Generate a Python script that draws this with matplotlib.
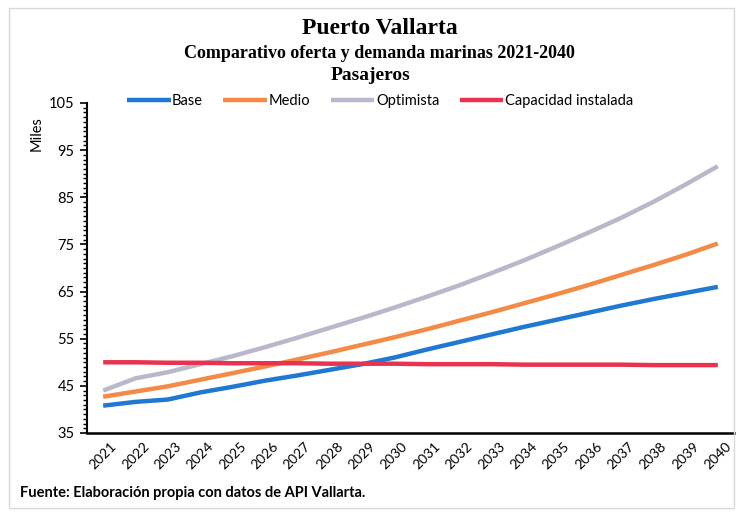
import matplotlib
matplotlib.use("Agg")
import matplotlib.pyplot as plt
from matplotlib.ticker import MultipleLocator
from matplotlib.patches import Rectangle

years = [str(y) for y in range(2021, 2041)]
base = [40.8, 41.6, 42.1, 43.6, 44.8, 46.1, 47.2, 48.4, 49.6, 51.0,
        52.7, 54.3, 55.9, 57.5, 59.0, 60.5, 62.0, 63.4, 64.7, 66.0]
medio = [42.7, 43.8, 44.9, 46.3, 47.7, 49.1, 50.6, 52.1, 53.7, 55.3,
         57.0, 58.8, 60.6, 62.5, 64.4, 66.4, 68.5, 70.6, 72.8, 75.2]
optimista = [44.0, 46.6, 47.9, 49.6, 51.3, 53.2, 55.2, 57.3, 59.4, 61.6,
             63.9, 66.3, 68.9, 71.6, 74.5, 77.5, 80.6, 84.0, 87.7, 91.6]
capacidad = [50.0, 50.0, 49.9, 49.9, 49.8, 49.8, 49.8, 49.7, 49.7, 49.7,
             49.6, 49.6, 49.6, 49.5, 49.5, 49.5, 49.5, 49.4, 49.4, 49.4]
series_names = ["Base", "Medio", "Optimista", "Capacidad instalada"]
yticks = [35, 45, 55, 65, 75, 85, 95, 105]

colors = ["#1f78d1", "#f48a45", "#b9b8ca", "#e8324e"]
sans = ["Lato", "DejaVu Sans"]
serif = ["Liberation Serif", "DejaVu Serif"]

fig = plt.figure(figsize=(7.38, 5.13), dpi=100)
ax = fig.add_axes([87/738, 1 - 433/513, (734 - 87)/738, (433 - 103)/513])

x = list(range(len(years)))
for vals, name, c in zip([base, medio, optimista, capacidad], series_names, colors):
    ax.plot(x, vals, color=c, lw=3.2, label=name, solid_capstyle="butt")

ax.set_xlim(-0.5, len(years) - 0.5)
ax.set_ylim(35, 105)
ax.set_yticks(yticks)
ax.yaxis.set_minor_locator(MultipleLocator(1))
ax.set_xticks(x)
ax.set_xticklabels(years, rotation=45, ha="center", va="top", fontsize=10, family=sans)
for lab in ax.get_yticklabels():
    lab.set_family(sans)
    lab.set_fontsize(10.5)
ax.tick_params(axis="x", length=0, pad=5)
ax.tick_params(axis="y", which="major", length=5, width=1.2, direction="out", pad=4)
ax.tick_params(axis="y", which="minor", length=3, width=1.0, direction="out")
for s in ["top", "right"]:
    ax.spines[s].set_visible(False)
ax.spines["left"].set_linewidth(1.5)
ax.spines["bottom"].set_linewidth(1.8)

leg = ax.legend(loc="center", bbox_to_anchor=((380 - 87) / 647, (433 - 101) / 330), ncol=4,
                frameon=False, handlelength=3.0, handletextpad=0.1, columnspacing=1.4,
                prop={"family": sans, "size": 10.5})

fig.text(37/738, 1 - 134/513, "Miles", rotation=90, ha="center", va="center",
         fontsize=10.5, family=sans)

fig.text(380/738, 1 - 29/513, "Puerto Vallarta", ha="center", va="center",
         fontsize=17, fontweight="bold", family=serif)
fig.text(379/738, 1 - 54/513, "Comparativo oferta y demanda marinas 2021-2040", ha="center",
         va="center", fontsize=13, fontweight="bold", family=serif)
fig.text(371/738, 1 - 76/513, "Pasajeros", ha="center", va="center",
         fontsize=14, fontweight="bold", family=serif)

fig.text(20/738, 1 - 493/513, "Fuente: Elaboración propia con datos de API Vallarta.",
         ha="left", va="center", fontsize=10.5, fontweight="bold", family=sans)

fig.patches.append(Rectangle((9/738, 1 - 508/513), (734 - 9)/738, (508 - 8)/513,
                             transform=fig.transFigure, fill=False,
                             edgecolor="#d8d8d8", lw=1.0))

fig.savefig("out.png", dpi=100)
